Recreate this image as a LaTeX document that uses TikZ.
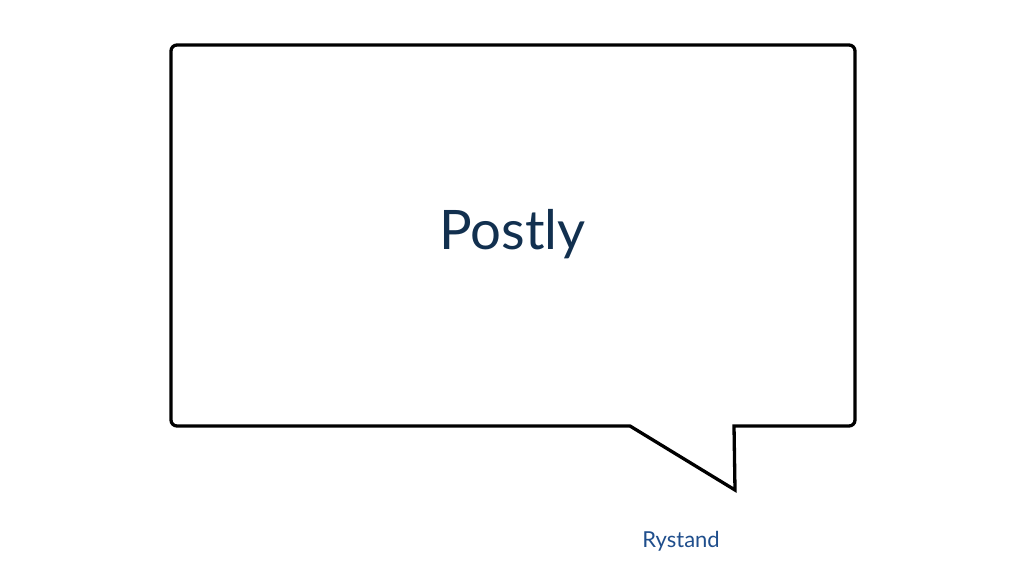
\documentclass[tikz,border=0pt]{standalone}
\usepackage{fontspec}
\setmainfont{Lato}
\usepackage{xcolor}
\usetikzlibrary{positioning}
\definecolor{postnavy}{HTML}{12304F}
\definecolor{speakerblue}{HTML}{1F4E8C}

\begin{document}
\begin{tikzpicture}[x=1pt,y=-1pt]
    \useasboundingbox (0,0) rectangle (1024,586);
    \draw[line width=3.3pt,line join=miter,rounded corners=6pt]
      (630,426)--(171,426)--(171,45)--(855,45)--(855,426) [sharp corners]--(734,426)--(735,490)--cycle;
    \node[text=postnavy,font=\fontsize{54.5}{60}\selectfont] (post) at (512.5,234) {Postly};
    \node[text=speakerblue,font=\fontsize{22}{26}\selectfont] (speaker) at (681,541) {Rystand};
  \end{tikzpicture}
\end{document}
